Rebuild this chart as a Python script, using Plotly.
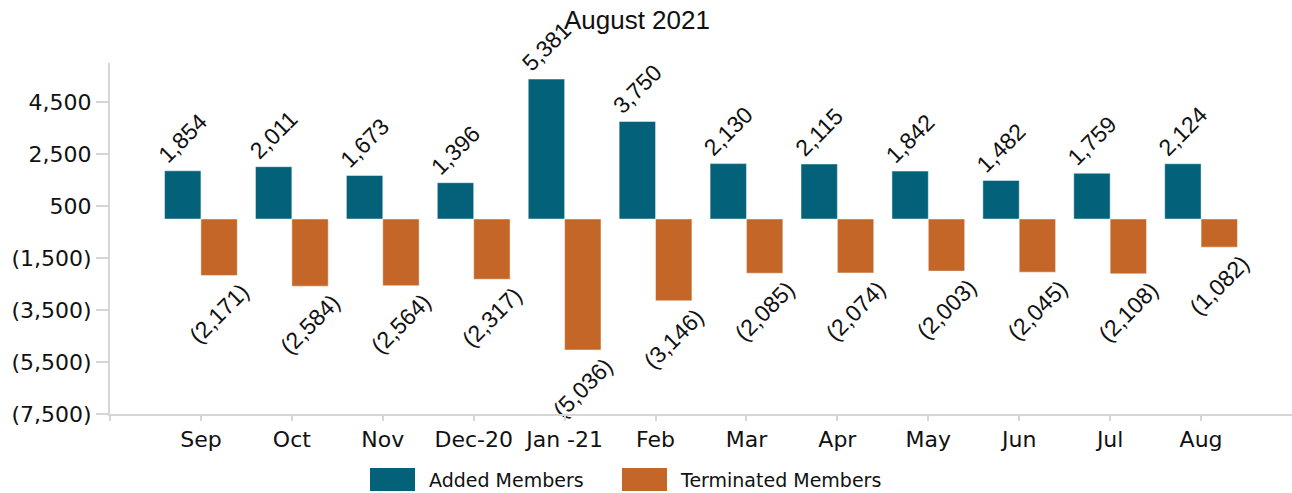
import plotly.graph_objects as go

months = ["Sep", "Oct", "Nov", "Dec-20", "Jan -21", "Feb", "Mar", "Apr", "May", "Jun", "Jul", "Aug"]
added = [1854, 2011, 1673, 1396, 5381, 3750, 2130, 2115, 1842, 1482, 1759, 2124]
terminated = [-2171, -2584, -2564, -2317, -5036, -3146, -2085, -2074, -2003, -2045, -2108, -1082]
series_names = ["Added Members", "Terminated Members"]
series_colors = ["#03627A", "#C46627"]
y_ticks = [-7500, -5500, -3500, -1500, 500, 2500, 4500]


def acct(v):
    return f"({abs(v):,})" if v < 0 else f"{v:,}"


x = list(range(len(months)))
fig = go.Figure()
for name, vals, col in zip(series_names, [added, terminated], series_colors):
    fig.add_trace(go.Bar(
        x=x, y=vals, name=name,
        marker=dict(color=col, line=dict(color="rgba(255,255,255,0.45)", width=1)),
        text=[acct(v) for v in vals],
        textposition="outside",
        textangle=-45,
        constraintext="none",
        cliponaxis=False,
        textfont=dict(family="Liberation Sans, Arial", size=23, color="#111111"),
        showlegend=False,
    ))

axis_col = "#d6d6d6"
fig.update_layout(
    width=1292, height=493,
    margin=dict(l=110, r=0, t=63, b=79),
    plot_bgcolor="white", paper_bgcolor="white",
    barmode="group", bargap=0.2, bargroupgap=0,
    title=dict(text="August 2021", x=0.493, xanchor="center", y=0.96, yanchor="middle",
               font=dict(family="Liberation Sans, Arial", size=26, color="#111111")),
    font=dict(family="DejaVu Sans, Verdana", size=21, color="#111111"),
    xaxis=dict(
        range=[-1, 12], tickmode="array", tickvals=[-1] + x, ticktext=[""] + months,
        showline=True, linecolor=axis_col, linewidth=2, showgrid=False, zeroline=False,
        ticks="outside", ticklen=5, tickcolor=axis_col, tickwidth=2, automargin=False,
        tickfont=dict(family="DejaVu Sans, Verdana", size=22, color="#111111"),
    ),
    yaxis=dict(
        range=[-7500, 6000], tickmode="array", tickvals=y_ticks,
        ticktext=[acct(v) for v in y_ticks],
        showline=True, linecolor=axis_col, linewidth=2, showgrid=False, zeroline=False,
        ticks="outside", ticklen=12, tickcolor=axis_col, tickwidth=2, automargin=False,
        tickfont=dict(family="DejaVu Sans, Verdana", size=22, color="#111111"),
    ),
)

# legend drawn below the plot area (paper coordinates)
plot_w, plot_h = 1182.0, 351.0
legend_items = [(370, 415, 427), (622, 667, 678)]
for (x0, x1, tx), name, col in zip(legend_items, series_names, series_colors):
    fig.add_shape(type="rect", xref="paper", yref="paper",
                  x0=(x0 - 110) / plot_w, x1=(x1 - 110) / plot_w,
                  y0=(414 - 491) / plot_h, y1=(414 - 468) / plot_h,
                  fillcolor=col, line=dict(width=0))
    fig.add_annotation(xref="paper", yref="paper", x=(tx - 110) / plot_w, y=(414 - 479.5) / plot_h,
                       xanchor="left", yanchor="middle", showarrow=False, text=name,
                       font=dict(family="DejaVu Sans, Verdana", size=19, color="#111111"))

fig.write_html("out.html", config={"displayModeBar": False},
               post_script="document.body.style.margin='0px';document.body.style.overflow='hidden';")
